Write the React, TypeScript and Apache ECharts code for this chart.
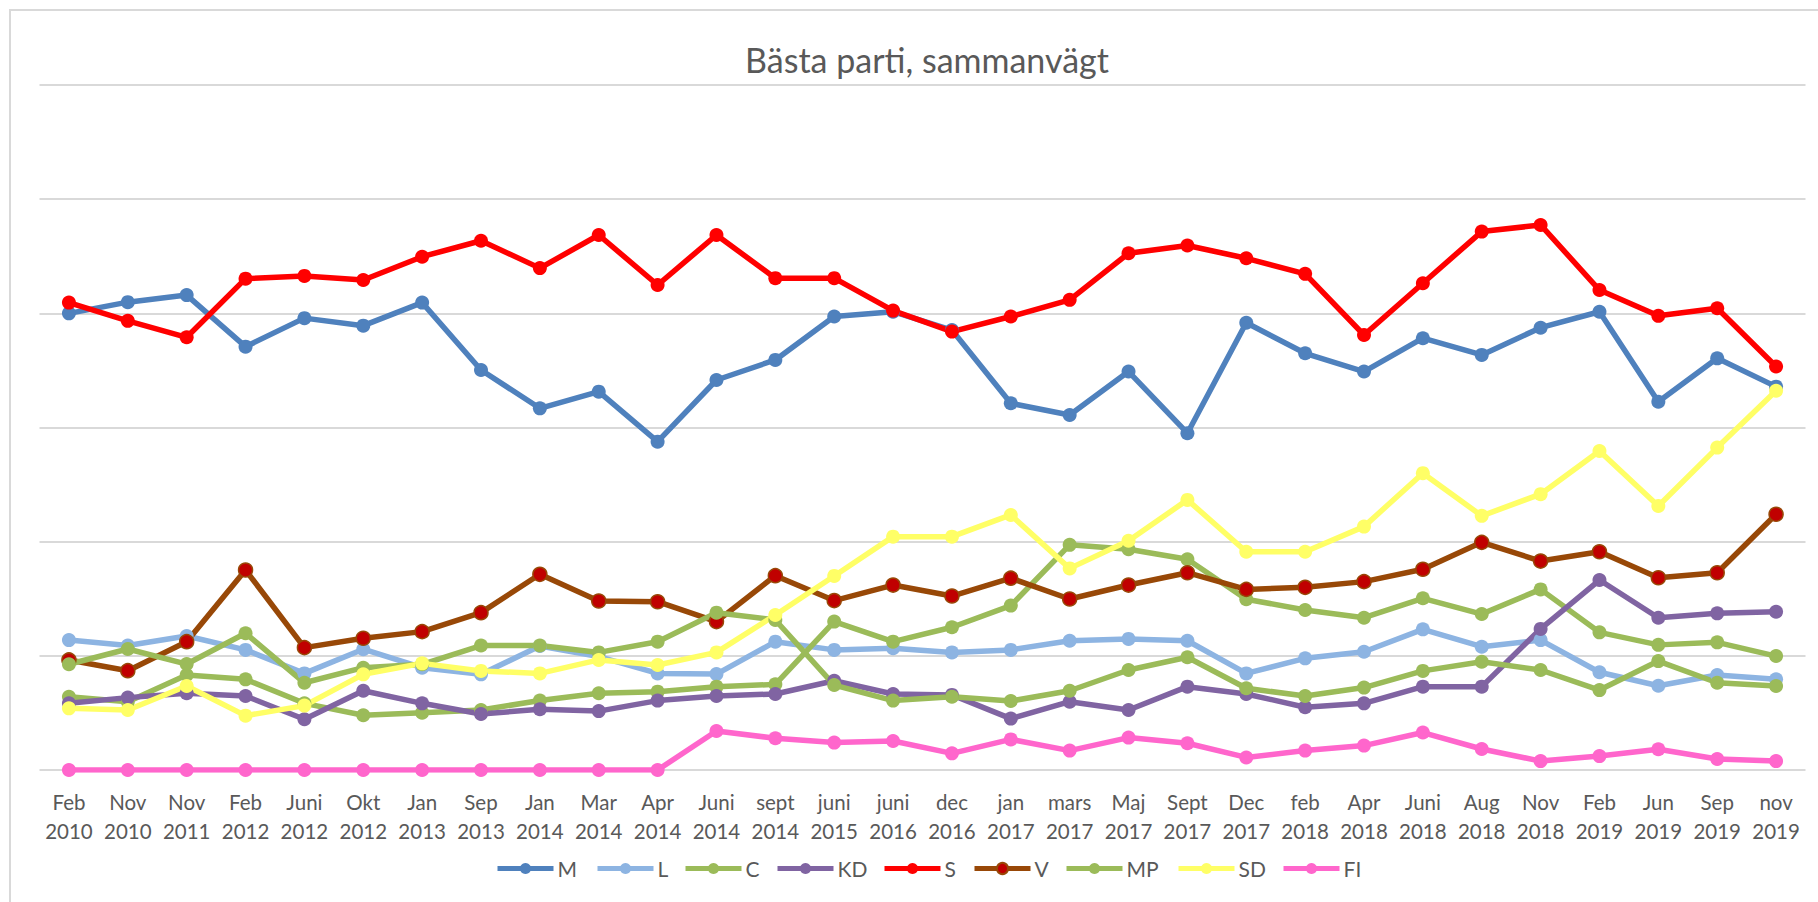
import React, { useEffect, useRef } from "react";
import * as echarts from "echarts";

const months = ["Feb","Nov","Nov","Feb","Juni","Okt","Jan","Sep","Jan","Mar","Apr","Juni","sept","juni","juni","dec","jan","mars","Maj","Sept","Dec","feb","Apr","Juni","Aug","Nov","Feb","Jun","Sep","nov"];
const years = ["2010","2010","2011","2012","2012","2012","2013","2013","2014","2014","2014","2014","2014","2015","2016","2016","2017","2017","2017","2017","2017","2018","2018","2018","2018","2018","2019","2019","2019","2019"];
const categories = months.map((m, i) => m + "\n" + years[i]);

const M = [20.0,20.49,20.8,18.54,19.79,19.46,20.47,17.52,15.84,16.57,14.38,17.08,17.96,19.86,20.07,19.27,16.06,15.55,17.45,14.75,19.59,18.25,17.45,18.91,18.18,19.37,20.07,16.13,18.03,16.79];
const L = [5.69,5.45,5.87,5.26,4.23,5.29,4.48,4.19,5.43,4.97,4.23,4.2,5.62,5.26,5.33,5.15,5.26,5.66,5.74,5.66,4.23,4.89,5.18,6.16,5.4,5.69,4.28,3.69,4.16,3.97];
const C = [3.21,2.99,4.16,3.97,2.92,2.4,2.51,2.63,3.04,3.36,3.43,3.65,3.75,6.5,5.62,6.25,7.2,9.86,9.67,9.23,7.48,7.01,6.67,7.52,6.83,7.91,6.03,5.48,5.59,4.99];
const KD = [2.92,3.17,3.36,3.24,2.22,3.47,2.92,2.45,2.66,2.58,3.04,3.24,3.33,3.91,3.33,3.29,2.25,2.99,2.63,3.65,3.33,2.75,2.92,3.65,3.65,6.18,8.32,6.67,6.86,6.93];
const S = [20.47,19.67,18.95,21.52,21.64,21.46,22.48,23.18,21.98,23.43,21.24,23.43,21.54,21.54,20.12,19.2,19.86,20.59,22.63,22.97,22.41,21.73,19.05,21.32,23.58,23.87,21.02,19.89,20.22,17.67];
const V = [4.82,4.35,5.62,8.76,5.36,5.77,6.06,6.89,8.57,7.4,7.37,6.5,8.51,7.42,8.1,7.62,8.4,7.49,8.1,8.64,7.91,8.0,8.25,8.79,9.97,9.15,9.56,8.42,8.64,11.2];
const MP = [4.63,5.3,4.64,5.99,3.82,4.48,4.63,5.45,5.45,5.15,5.62,6.89,6.57,3.72,3.04,3.21,3.02,3.47,4.38,4.94,3.58,3.24,3.61,4.34,4.74,4.38,3.5,4.77,3.82,3.68];
const SD = [2.7,2.63,3.68,2.38,2.82,4.19,4.67,4.34,4.23,4.82,4.6,5.15,6.79,8.5,10.22,10.22,11.17,8.83,10.04,11.83,9.56,9.56,10.66,13.0,11.13,12.08,13.97,11.56,14.12,16.61];
const FI = [0,0,0,0,0,0,0,0,0,0,0,1.71,1.39,1.2,1.27,0.73,1.34,0.85,1.42,1.17,0.55,0.85,1.07,1.64,0.92,0.39,0.61,0.91,0.48,0.39];

const seriesDefs = [
  { name: "M", data: M, line: "#4F81BD", fill: "#4F81BD", border: "#4F81BD" },
  { name: "L", data: L, line: "#8DB4E2", fill: "#8DB4E2", border: "#8DB4E2" },
  { name: "C", data: C, line: "#9BBB59", fill: "#9BBB59", border: "#9BBB59" },
  { name: "KD", data: KD, line: "#8064A2", fill: "#8064A2", border: "#8064A2" },
  { name: "S", data: S, line: "#FF0000", fill: "#FF0000", border: "#FF0000" },
  { name: "V", data: V, line: "#984807", fill: "#C00000", border: "#984807" },
  { name: "MP", data: MP, line: "#9BBB59", fill: "#9BBB59", border: "#9BBB59" },
  { name: "SD", data: SD, line: "#FFFF66", fill: "#FFFF66", border: "#FFFF66" },
  { name: "FI", data: FI, line: "#FF66CC", fill: "#FF66CC", border: "#FF66CC" },
];

const legendLefts = [495, 595, 683, 775, 882, 972, 1064, 1176, 1281];

const FONT = "Lato, 'Open Sans', sans-serif";

export default function App() {
  const ref = useRef<HTMLDivElement>(null);
  useEffect(() => {
    if (!ref.current) return;
    const chart = echarts.init(ref.current, null, { renderer: "svg" });
    chart.setOption({
      animation: false,
      backgroundColor: "#ffffff",
      title: {
        text: "Bästa parti, sammanvägt",
        left: 922,
        top: 35,
        textAlign: "center",
        textStyle: { fontFamily: FONT, fontSize: 34, fontWeight: "normal", color: "#595959", lineHeight: 38 },
      },
      graphic: [
        {
          type: "rect",
          shape: { x: 10, y: 10, width: 1840, height: 940 },
          style: { fill: "none", stroke: "#d9d9d9", lineWidth: 2 },
          silent: true,
        },
      ],
      legend: seriesDefs.map((s, i) => ({
        left: legendLefts[i],
        top: 858,
        padding: 0,
        itemWidth: 56,
        itemHeight: 14,
        lineStyle: { width: 5 },
        textStyle: { fontFamily: FONT, fontSize: 21, color: "#595959", padding: [0, 0, 0, -1] },
        data: [s.name],
      })),
      grid: { left: 39.5, right: 12.5, top: 85, bottom: 132, containLabel: false },
      xAxis: {
        type: "category",
        data: categories,
        boundaryGap: true,
        axisTick: { show: false },
        axisLine: { show: false },
        axisLabel: {
          interval: 0,
          margin: 17,
          fontFamily: FONT,
          fontSize: 20.5,
          lineHeight: 29.5,
          color: "#595959",
        },
      },
      yAxis: {
        type: "value",
        min: 0,
        max: 30,
        interval: 5,
        axisLabel: { show: false },
        axisLine: { show: false },
        axisTick: { show: false },
        splitLine: { lineStyle: { color: "#d9d9d9", width: 2 } },
      },
      series: seriesDefs.map((s) => ({
        name: s.name,
        type: "line",
        data: s.data,
        symbol: "circle",
        symbolSize: 14,
        showAllSymbol: true,
        lineStyle: { color: s.line, width: 5.5 },
        itemStyle: { color: s.fill, borderColor: s.border, borderWidth: s.name === "V" ? 1.5 : 0 },
        emphasis: { disabled: true },
      })),
    });
    return () => chart.dispose();
  }, []);
  return (
    <div
      ref={ref}
      style={{ position: "absolute", left: 0, top: 0, width: 1818, height: 902 }}
    />
  );
}
